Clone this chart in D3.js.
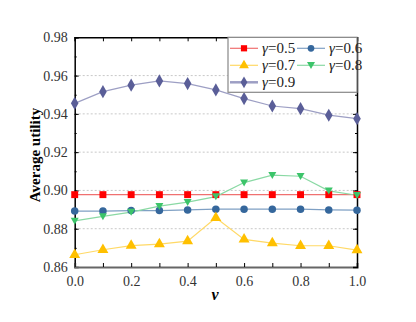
<!DOCTYPE html>
<html>
<head>
<meta charset="utf-8">
<script src="https://cdn.jsdelivr.net/npm/d3@7"></script>
<style>
  body { margin: 0; background: #fff; }
  text { font-family: "Liberation Serif", "Times New Roman", serif; }
</style>
</head>
<body>
<div id="chart"></div>
<script>
// Data
const nuValues = [0.0, 0.1, 0.2, 0.3, 0.4, 0.5, 0.6, 0.7, 0.8, 0.9, 1.0];
const gamma05 = [0.8978, 0.8978, 0.8978, 0.8978, 0.8978, 0.8978, 0.8978, 0.8978, 0.8978, 0.8978, 0.8978];
const gamma06 = [0.8892, 0.8892, 0.8895, 0.8895, 0.8898, 0.8902, 0.8902, 0.8902, 0.8902, 0.8898, 0.8897];
const gamma07 = [0.8664, 0.8690, 0.8712, 0.8720, 0.8735, 0.8857, 0.8744, 0.8725, 0.8711, 0.8711, 0.8688];
const gamma08 = [0.8841, 0.8864, 0.8887, 0.8918, 0.8939, 0.8968, 0.9041, 0.9080, 0.9074, 0.8998, 0.8975];
const gamma09 = [0.9455, 0.9516, 0.9550, 0.9572, 0.9558, 0.9525, 0.9480, 0.9441, 0.9427, 0.9393, 0.9375];
const seriesNames = ["0.5", "0.6", "0.7", "0.8", "0.9"];
const yTicks = [0.86, 0.88, 0.90, 0.92, 0.94, 0.96, 0.98];
const xTicks = [0.0, 0.2, 0.4, 0.6, 0.8, 1.0];

const series = [
  { name: seriesNames[0], values: gamma05, color: "#ff0000", line: "#f07070", shape: d3.symbolSquare },
  { name: seriesNames[1], values: gamma06, color: "#35679c", line: "#7fa0c4", shape: d3.symbolCircle },
  { name: seriesNames[2], values: gamma07, color: "#ffc000", line: "#ffd966", shape: d3.symbolTriangle },
  { name: seriesNames[3], values: gamma08, color: "#3cc46a", line: "#8ad9a4", shape: "down" },
  { name: seriesNames[4], values: gamma09, color: "#5a5e98", line: "#9d9fc4", shape: d3.symbolDiamond }
];

const W = 416, H = 322;
const margin = { top: 37.3, right: 59, bottom: 55, left: 74.7 };
const width = W - margin.left - margin.right;
const height = H - margin.top - margin.bottom;
const serif = "'Liberation Serif', 'Times New Roman', serif";

const svg = d3.select("#chart").append("svg")
  .attr("width", W).attr("height", H)
  .append("g")
  .attr("transform", `translate(${margin.left},${margin.top})`);

const x = d3.scaleLinear().domain([0, 1]).range([0, width]);
const y = d3.scaleLinear().domain([0.86, 0.98]).range([height, 0]);

// grid lines
svg.append("g")
  .selectAll("line")
  .data(yTicks.slice(1, -1))
  .enter().append("line")
  .attr("x1", 0).attr("x2", width)
  .attr("y1", d => y(d)).attr("y2", d => y(d))
  .style("stroke", "#c8c8c8")
  .style("stroke-width", 1)
  .style("stroke-dasharray", "2,2");

// axes with inward ticks
const minorY = d3.range(0.86, 0.9801, 0.01);
const xAll = d3.range(0, 1.0001, 0.1);

const left = svg.append("g").call(d3.axisLeft(y).tickValues(yTicks).tickFormat(d3.format(".2f")).tickSize(-4).tickPadding(7));
left.append("g").call(d3.axisLeft(y).tickValues(minorY).tickFormat("").tickSize(-2)).select(".domain").remove();

const bottom = svg.append("g").attr("transform", `translate(0,${height})`)
  .call(d3.axisBottom(x).tickValues(xAll).tickFormat(d => xTicks.some(t => Math.abs(t - d) < 1e-6) ? d3.format(".1f")(d) : "").tickSize(-4).tickPadding(9));

svg.append("g").call(d3.axisTop(x).tickValues(xAll).tickFormat("").tickSize(-4));
const right = svg.append("g").attr("transform", `translate(${width},0)`)
  .call(d3.axisRight(y).tickValues(yTicks).tickFormat("").tickSize(-4));
right.append("g").call(d3.axisRight(y).tickValues(minorY).tickFormat("").tickSize(-2)).select(".domain").remove();

left.attr("font-family", serif).attr("font-size", 14);
bottom.attr("font-family", serif).attr("font-size", 14);
svg.selectAll(".domain").style("stroke", "#000").style("stroke-width", 1.5);
bottom.select(".domain").style("stroke", "#666").style("stroke-width", 2);
svg.selectAll(".tick line").style("stroke", "#000");
svg.selectAll(".tick text").style("font-size", "14px").style("fill", "#333")
  .style("font-family", serif);

// lines and markers
const line = d3.line().x((d, i) => x(nuValues[i])).y(d => y(d));
const markerPath = (shape, size) => {
  if (shape === "down") return "M-4,-3.2L4,-3.2L0,3.8Z";
  return d3.symbol().type(shape).size(size)();
};
const sizes = [48, 44, 52, 52, 50];

series.forEach((s, k) => {
  svg.append("path")
    .datum(s.values)
    .attr("fill", "none")
    .attr("stroke", s.line)
    .attr("stroke-width", 1.2)
    .attr("d", line);
});
series.forEach((s, k) => {
  svg.append("g").selectAll("path")
    .data(s.values)
    .enter().append("path")
    .attr("transform", (d, i) => `translate(${x(nuValues[i])},${y(d)})`)
    .attr("d", markerPath(s.shape, sizes[k]))
    .attr("fill", s.color);
});

// legend
const lg = svg.append("g").attr("transform", `translate(${228 - margin.left},0)`);
lg.append("rect")
  .attr("x", 0).attr("y", 0)
  .attr("width", width - (228 - margin.left)).attr("height", 55)
  .attr("fill", "#fff")
  .attr("stroke", "#888").attr("stroke-width", 1.2);
const legendPos = [[0, 0], [67, 0], [0, 1], [67, 1], [0, 2]];
series.forEach((s, k) => {
  const g = lg.append("g")
    .attr("transform", `translate(${legendPos[k][0]},${11 + legendPos[k][1] * 17})`);
  g.append("line").attr("x1", 2).attr("x2", 30).attr("y1", 0).attr("y2", 0)
    .attr("stroke", s.line).attr("stroke-width", k === 4 ? 2.5 : 1.2);
  g.append("path").attr("transform", "translate(16,0)")
    .attr("d", markerPath(s.shape, sizes[k] * 0.8)).attr("fill", s.color);
  const t = g.append("text").attr("x", 34).attr("y", 5)
    .style("font-size", "15px").style("fill", "#222");
  t.append("tspan").style("font-style", "italic").text("γ");
  t.append("tspan").text("=" + s.name);
});

// axis titles
svg.append("text")
  .attr("transform", "rotate(-90)")
  .attr("x", -(155 - margin.top)).attr("y", 40 - margin.left)
  .style("text-anchor", "middle")
  .style("font-size", "15px").style("font-weight", "bold")
  .text("Average utility");

svg.append("text")
  .attr("x", 215 - margin.left).attr("y", 300 - margin.top)
  .style("text-anchor", "middle")
  .style("font-size", "16px").style("font-weight", "bold").style("font-style", "italic")
  .text("ν");
</script>
</body>
</html>
